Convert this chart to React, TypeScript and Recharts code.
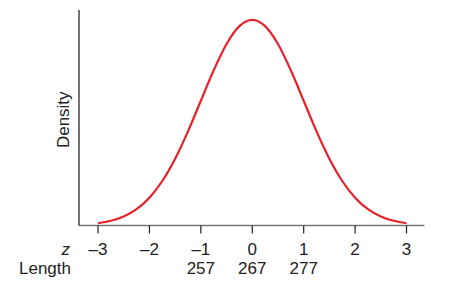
import React from 'react';
import { LineChart, Line, XAxis, YAxis } from 'recharts';

const zValues = [-3, -2.75, -2.5, -2.25, -2, -1.75, -1.5, -1.25, -1, -0.75, -0.5, -0.25, 0, 0.25, 0.5, 0.75, 1, 1.25, 1.5, 1.75, 2, 2.25, 2.5, 2.75, 3];
const densityValues = [0.0044, 0.0091, 0.0175, 0.0317, 0.054, 0.0863, 0.1295, 0.1826, 0.242, 0.3011, 0.3521, 0.3867, 0.3989, 0.3867, 0.3521, 0.3011, 0.242, 0.1826, 0.1295, 0.0863, 0.054, 0.0317, 0.0175, 0.0091, 0.0044];
const zTicks = [-3, -2, -1, 0, 1, 2, 3];
const lengthLabels = ['', '', '257', '267', '277', '', ''];

const data = zValues.map((z, i) => ({ z, d: densityValues[i] }));

const FONT = 'Liberation Sans, Arial, sans-serif';
const FS = 17;

const XTick = (props: any) => {
  const { x, y, payload } = props;
  const idx = zTicks.indexOf(payload.value);
  const label = String(payload.value).replace('-', '\u2013');
  const len = idx >= 0 ? lengthLabels[idx] : '';
  return (
    <g>
      <text x={x} y={y + 21.5} textAnchor="middle" fontFamily={FONT} fontSize={FS} fill="#222">{label}</text>
      {len ? (
        <text x={x} y={y + 40.5} textAnchor="middle" fontFamily={FONT} fontSize={FS} fill="#222">{len}</text>
      ) : null}
    </g>
  );
};

const XLabel = (props: any) => {
  const vb = props.viewBox || {};
  const left = vb.x;
  const top = vb.y;
  return (
    <g>
      <text x={left - 9} y={top + 29.5} textAnchor="end" fontFamily={FONT} fontSize={FS} fontStyle="italic" fill="#222">z</text>
      <text x={left - 8} y={top + 48.5} textAnchor="end" fontFamily={FONT} fontSize={FS} fill="#222">Length</text>
    </g>
  );
};

const YLabel = (props: any) => {
  const vb = props.viewBox || {};
  const cx = vb.x + vb.width - 16;
  const cy = vb.y + vb.height / 2 + 2;
  return (
    <text x={cx} y={cy} textAnchor="middle" dominantBaseline="central" transform={`rotate(-90 ${cx} ${cy})`} fontFamily={FONT} fontSize={FS} fill="#222">Density</text>
  );
};

export default function App() {
  return (
    <div style={{ position: 'absolute', left: 0, top: 0, width: 449, height: 288, background: '#fff' }}>
      <LineChart width={449} height={288} data={data} margin={{ top: 10, right: 24.5, bottom: 0, left: 0 }}>
        <XAxis
          dataKey="z"
          type="number"
          domain={[-3.37, 3.35]}
          ticks={zTicks}
          interval={0}
          tickSize={8}
          tickMargin={0}
          axisLine={{ stroke: '#777', strokeWidth: 1.5 }}
          tickLine={{ stroke: '#222', strokeWidth: 1.2 }}
          tick={<XTick />}
          label={<XLabel />}
          height={62.5}
        />
        <YAxis
          type="number"
          domain={[0, 0.418]}
          width={79}
          tick={false}
          tickLine={false}
          axisLine={{ stroke: '#444', strokeWidth: 1.5 }}
          label={<YLabel />}
        />
        <Line type="monotone" dataKey="d" stroke="#e8202a" strokeWidth={2.2} dot={false} isAnimationActive={false} />
      </LineChart>
    </div>
  );
}
